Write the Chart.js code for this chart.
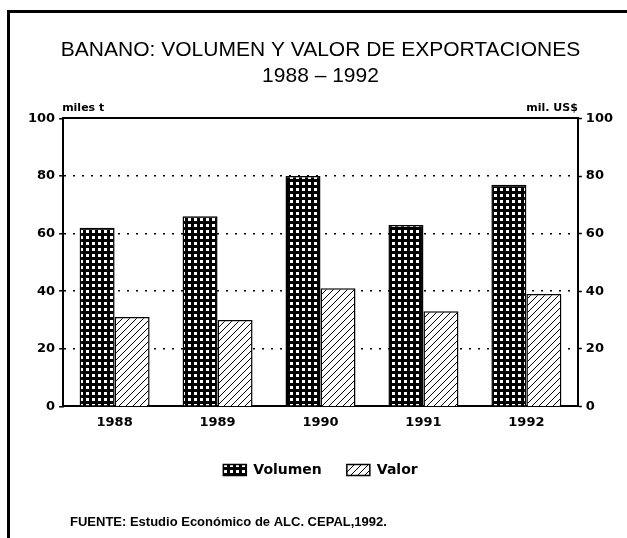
<!DOCTYPE html>
<html>
<head>
<meta charset="utf-8">
<script src="https://cdn.jsdelivr.net/npm/chart.js@4"></script>
<style>
  html, body { margin: 0; padding: 0; background: #fff; }
</style>
</head>
<body>
<canvas id="myChart" width="627" height="538"></canvas>
<script>
const years = ['1988', '1989', '1990', '1991', '1992'];
const volumen = [62, 66, 80, 63, 77];   // miles t
const valor = [31, 30, 41, 33, 39];     // mil. US$
const axisMin = 0;
const axisMax = 100;
const axisStep = 20;

// fill patterns for the bars (grid for Volumen, hatch for Valor)
function gridPattern(ctx) {
    const c = document.createElement('canvas');
    c.width = 6; c.height = 6;
    const p = c.getContext('2d');
    p.fillStyle = '#000';
    p.fillRect(0, 0, 6, 6);
    p.fillStyle = '#fff';
    p.fillRect(2, 2, 3, 3);
    return ctx.createPattern(c, 'repeat');
}

function hatchPattern(ctx) {
    const c = document.createElement('canvas');
    c.width = 7; c.height = 7;
    const p = c.getContext('2d');
    p.fillStyle = '#fff';
    p.fillRect(0, 0, 7, 7);
    p.strokeStyle = '#000';
    p.lineWidth = 1;
    p.beginPath();
    p.moveTo(-1, 8); p.lineTo(8, -1);
    p.moveTo(-1, 1); p.lineTo(1, -1);
    p.moveTo(6, 8); p.lineTo(8, 6);
    p.stroke();
    return ctx.createPattern(c, 'repeat');
}

// frame, unit labels and source line
const decorations = {
    id: 'decorations',
    afterDraw(chart) {
        const { ctx, chartArea } = chart;
        ctx.save();
        ctx.strokeStyle = '#000';
        ctx.lineWidth = 3;
        ctx.beginPath();
        ctx.moveTo(8.5, 538);
        ctx.lineTo(8.5, 11.5);
        ctx.lineTo(627, 11.5);
        ctx.stroke();

        ctx.fillStyle = '#000';
        ctx.font = 'bold 11px "DejaVu Sans"';
        ctx.textAlign = 'left';
        ctx.fillText('miles t', chartArea.left - 1, chartArea.top - 10);
        ctx.textAlign = 'right';
        ctx.fillText('mil. US$', chartArea.right, chartArea.top - 10);

        ctx.textAlign = 'left';
        ctx.font = 'bold 13px "Liberation Sans"';
        ctx.fillText('FUENTE: Estudio Económico de ALC. CEPAL,1992.', 70, 522);
        ctx.restore();
    }
};

const ctx = document.getElementById('myChart').getContext('2d');
new Chart(ctx, {
    type: 'bar',
    data: {
        labels: years,
        datasets: [{
            label: 'Volumen',
            data: volumen,
            yAxisID: 'y',
            backgroundColor: gridPattern(ctx),
            borderColor: '#000',
            borderWidth: 1.5
        }, {
            label: 'Valor',
            data: valor,
            yAxisID: 'y1',
            backgroundColor: hatchPattern(ctx),
            borderColor: '#000',
            borderWidth: 1.5
        }]
    },
    options: {
        responsive: false,
        animation: false,
        devicePixelRatio: 1,
        layout: { padding: { left: 24, right: 10, top: 0, bottom: 51 } },
        datasets: { bar: { categoryPercentage: 0.68, barPercentage: 1 } },
        plugins: {
            title: {
                display: true,
                text: ['BANANO: VOLUMEN Y VALOR DE EXPORTACIONES', '1988 \u2013 1992'],
                color: '#000',
                font: { family: '"Liberation Sans"', size: 21, weight: 'normal', lineHeight: 1.2 },
                padding: { top: 38, bottom: 30 }
            },
            legend: {
                position: 'bottom',
                labels: {
                    color: '#000',
                    boxWidth: 23,
                    boxHeight: 11,
                    padding: 25,
                    font: { family: '"DejaVu Sans"', size: 14, weight: 'bold' }
                }
            },
            tooltip: { enabled: false }
        },
        scales: {
            x: {
                grid: { display: false, drawTicks: false },
                border: { display: true, color: '#000', width: 2 },
                ticks: {
                    color: '#000',
                    padding: 8,
                    font: { family: '"DejaVu Sans"', size: 13, weight: 'bold' }
                }
            },
            x2: {
                position: 'top',
                grid: { display: false, drawTicks: false },
                border: { display: true, color: '#000', width: 2 },
                ticks: { display: false }
            },
            y: {
                position: 'left',
                min: axisMin,
                max: axisMax,
                ticks: {
                    stepSize: axisStep,
                    color: '#000',
                    padding: 4,
                    font: { family: '"DejaVu Sans"', size: 13, weight: 'bold' }
                },
                grid: {
                    color: c => (c.tick && c.tick.value > axisMin && c.tick.value < axisMax) ? '#000' : 'rgba(0,0,0,0)',
                    lineWidth: 1.6,
                    tickColor: '#000',
                    tickLength: 4,
                    tickWidth: 1.5
                },
                border: { display: true, color: '#000', width: 2, dash: [2, 7] }
            },
            y1: {
                position: 'right',
                min: axisMin,
                max: axisMax,
                ticks: {
                    stepSize: axisStep,
                    color: '#000',
                    padding: 4,
                    font: { family: '"DejaVu Sans"', size: 13, weight: 'bold' }
                },
                grid: {
                    drawOnChartArea: false,
                    tickColor: '#000',
                    tickLength: 4,
                    tickWidth: 1.5
                },
                border: { display: true, color: '#000', width: 2 }
            }
        }
    },
    plugins: [decorations]
});
</script>
</body>
</html>
